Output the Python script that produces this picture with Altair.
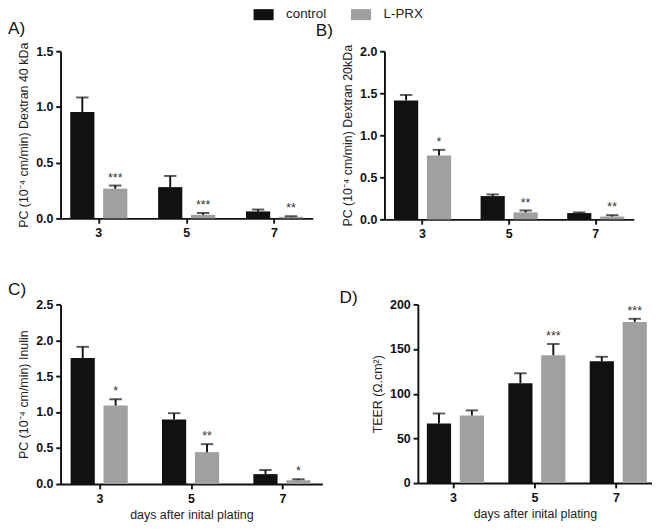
import altair as alt
import pandas as pd

days = ["3", "5", "7"]
groups = ["control", "L-PRX"]

a_ctrl = [0.955, 0.281, 0.063]
a_ctrl_err = [0.130, 0.100, 0.017]
a_lprx = [0.267, 0.032, 0.014]
a_lprx_err = [0.028, 0.017, 0.006]
a_stars = ["***", "***", "**"]

b_ctrl = [1.415, 0.277, 0.075]
b_ctrl_err = [0.065, 0.020, 0.008]
b_lprx = [0.760, 0.083, 0.034]
b_lprx_err = [0.067, 0.023, 0.016]
b_stars = ["*", "**", "**"]

c_ctrl = [1.754, 0.900, 0.138]
c_ctrl_err = [0.156, 0.086, 0.057]
c_lprx = [1.092, 0.444, 0.053]
c_lprx_err = [0.088, 0.111, 0.014]
c_stars = ["*", "**", "*"]

d_ctrl = [66.8, 111.8, 136.4]
d_ctrl_err = [11.1, 11.1, 5.0]
d_lprx = [75.7, 143.2, 180.4]
d_lprx_err = [5.7, 12.5, 3.5]
d_stars = ["", "***", "***"]

FONT = "Liberation Sans"
COLORS = ["#111111", "#a0a0a0"]


def make_df(ctrl, ctrl_err, lprx, lprx_err, stars):
    rows = []
    for i, d in enumerate(days):
        rows.append(dict(day=d, group="control", value=ctrl[i],
                         upper=ctrl[i] + ctrl_err[i], star=""))
        rows.append(dict(day=d, group="L-PRX", value=lprx[i],
                         upper=lprx[i] + lprx_err[i], star=stars[i]))
    return pd.DataFrame(rows)


def panel(df, label, ytitle, ymax, yticks, xtitle, w, h, fmt, tdx, toff,
          pi=0.36, po=0.11):
    x = alt.X("day:N", sort=days,
              scale=alt.Scale(paddingInner=pi, paddingOuter=po),
              axis=alt.Axis(title=xtitle, labelAngle=0))
    xo = alt.XOffset("group:N", sort=groups,
                     scale=alt.Scale(paddingInner=0.265, paddingOuter=0))
    y_scale = alt.Scale(domain=[0, ymax], nice=False)
    base = alt.Chart(df)
    bars = base.mark_bar().encode(
        x=x, xOffset=xo,
        y=alt.Y("value:Q", scale=y_scale,
                axis=alt.Axis(title=ytitle, values=yticks, format=fmt,
                              tickCount=len(yticks), labelOverlap=False)),
        color=alt.Color("group:N", sort=groups,
                        scale=alt.Scale(domain=groups, range=COLORS),
                        legend=alt.Legend(title=None, orient="none",
                                          legendX=202, legendY=-49,
                                          direction="horizontal",
                                          symbolType="M-1,-0.55H1V0.55H-1Z",
                                          symbolSize=441, symbolStrokeWidth=0,
                                          labelFontSize=14, labelFont=FONT,
                                          labelColor="#222", labelOffset=13,
                                          columnPadding=25)),
    )
    rule = base.mark_rule(color="#111", strokeWidth=2).encode(
        x=x, xOffset=xo, y="value:Q", y2="upper:Q")
    cap = base.mark_tick(color="#111", thickness=2, size=13,
                         orient="horizontal").encode(
        x=x, xOffset=xo, y="upper:Q")
    stars = base.mark_text(fontSize=13, font=FONT, color="#333",
                           baseline="alphabetic", dy=-4).encode(
        x=x, xOffset=xo, y="upper:Q", text="star:N")
    return alt.layer(bars, rule, cap, stars).properties(
        width=w, height=h,
        title=alt.TitleParams(label, anchor="start", frame="group",
                              fontSize=18, font=FONT, fontWeight="normal",
                              dx=tdx, offset=toff, color="#111"),
    )


pa = panel(make_df(a_ctrl, a_ctrl_err, a_lprx, a_lprx_err, a_stars), "A)",
           "PC (10⁻⁴ cm/min) Dextran 40 kDa", 1.5, [0, 0.5, 1.0, 1.5],
           None, 264, 175, ".1f", -55, 5, pi=0.35, po=0.11)
pb = panel(make_df(b_ctrl, b_ctrl_err, b_lprx, b_lprx_err, b_stars), "B)",
           "PC (10⁻⁴ cm/min) Dextran 20kDa", 2.0, [0, 0.5, 1.0, 1.5, 2.0],
           None, 261, 176, ".1f", -72, 5, pi=0.34, po=0.11)
pc = panel(make_df(c_ctrl, c_ctrl_err, c_lprx, c_lprx_err, c_stars), "C)",
           "PC (10⁻⁴ cm/min) Inulin", 2.5, [0, 0.5, 1.0, 1.5, 2.0, 2.5],
           "days after inital plating", 274, 188, ".1f", -55, 0, pi=0.355, po=0.11)
pd_ = panel(make_df(d_ctrl, d_ctrl_err, d_lprx, d_lprx_err, d_stars), "D)",
            "TEER (Ω.cm²)", 200, [0, 50, 100, 150, 200],
            "days after inital plating", 245, 187, "d", -82, -8, pi=0.345, po=0.11)

row1 = alt.hconcat(pa, pb, spacing=3).resolve_scale(x="independent", y="independent")
row2 = alt.hconcat(pc, pd_, spacing=18).resolve_scale(x="independent", y="independent")

chart = alt.vconcat(row1, row2, spacing=43).resolve_scale(
    x="independent", y="independent", color="shared"
).properties(
    padding={"left": 0, "top": -16, "right": 0, "bottom": 0}
).configure_view(stroke=None).configure_axis(
    domainColor="#111", domainWidth=2, tickColor="#111", tickWidth=2,
    tickSize=5, grid=False, labelFont=FONT, labelFontWeight="bold",
    labelFontSize=13, labelColor="#111", titleFont=FONT, titleFontWeight="normal",
    titleFontSize=13, titleColor="#222", labelPadding=3, titlePadding=5,
).configure_axisX(titlePadding=4, labelPadding=4)

chart.save("out.html", embed_options={"renderer": "svg", "actions": False})
